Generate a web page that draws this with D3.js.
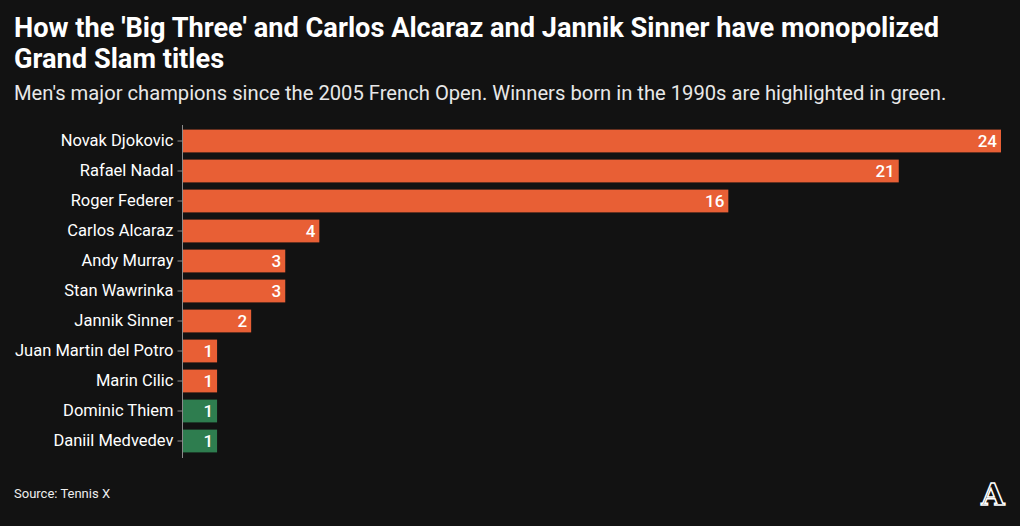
<!DOCTYPE html>
<html>
<head>
<meta charset="utf-8">
<script src="https://cdn.jsdelivr.net/npm/d3@7"></script>
<style>
  body { margin: 0; background: #121212; }
  svg { display: block; background: #121212; }
  text { font-family: Roboto, "Liberation Sans", sans-serif; fill: #fff; }
  .axis path, .axis line { stroke: #8a8a8a; }
  .axis text { font-size: 16.5px; fill: #fff; }
</style>
</head>
<body>
<svg width="1020" height="526"></svg>
<script>
var players = ['Novak Djokovic', 'Rafael Nadal', 'Roger Federer', 'Carlos Alcaraz', 'Andy Murray',
    'Stan Wawrinka', 'Jannik Sinner', 'Juan Martin del Potro', 'Marin Cilic', 'Dominic Thiem', 'Daniil Medvedev'];
var titles = [24, 21, 16, 4, 3, 3, 2, 1, 1, 1, 1];
var born1990s = [false, false, false, false, false, false, false, false, false, true, true];

var svg = d3.select('svg');

var margin = {t: 125, l: 182, r: 19, b: 68};
var width = +svg.attr('width');
var height = +svg.attr('height');

var xScale = d3.scaleLinear()
    .domain([0, 24])
    .range([margin.l + 1, width - margin.r]);

var yScale = d3.scaleBand()
    .domain(players)
    .range([margin.t + 1, margin.t + 331])
    .paddingInner(0.24)
    .paddingOuter(0.12);

// title + subtitle
svg.append('text')
    .attr('x', 14).attr('y', 37)
    .style('font-size', '27.2px').style('font-weight', 'bold')
    .text("How the 'Big Three' and Carlos Alcaraz and Jannik Sinner have monopolized");
svg.append('text')
    .attr('x', 14).attr('y', 68)
    .style('font-size', '27.2px').style('font-weight', 'bold')
    .text('Grand Slam titles');
svg.append('text')
    .attr('x', 14).attr('y', 100)
    .style('font-size', '20.2px')
    .style('fill', '#e8e8e8')
    .text("Men's major champions since the 2005 French Open. Winners born in the 1990s are highlighted in green.");

// bars
var bars = svg.selectAll('.bar')
    .data(players)
    .enter()
    .append('g')
    .attr('class', 'bar');

bars.append('rect')
    .attr('x', xScale(0))
    .attr('y', function(d) { return yScale(d); })
    .attr('width', function(d, i) { return xScale(titles[i]) - xScale(0); })
    .attr('height', yScale.bandwidth())
    .style('fill', function(d, i) { return born1990s[i] ? '#2e7d4f' : '#e85f35'; });

bars.append('text')
    .attr('x', function(d, i) { return xScale(titles[i]) - 4; })
    .attr('y', function(d) { return yScale(d) + yScale.bandwidth() / 2; })
    .attr('dy', '0.36em')
    .attr('text-anchor', 'end')
    .style('font-size', '17px')
    .style('font-weight', 500)
    .text(function(d, i) { return titles[i]; });

// y axis
var yAxis = d3.axisLeft(yScale).tickSize(5).tickSizeOuter(0).tickPadding(4);
var gy = svg.append('g')
    .attr('class', 'axis')
    .attr('transform', 'translate(' + (margin.l + 0.5) + ',0)')
    .call(yAxis);
gy.select('.domain').attr('d', 'M0,' + margin.t + 'V' + (margin.t + 333));

// footer
svg.append('text')
    .attr('x', 14).attr('y', 498)
    .style('font-size', '13px')
    .style('fill', '#eee')
    .text('Source: Tennis X');

svg.append('text')
    .attr('x', 993).attr('y', 505)
    .attr('text-anchor', 'middle')
    .style('font-family', '"DejaVu Serif", serif')
    .style('font-size', '30px')
    .style('font-weight', 'bold')
    .style('fill', '#121212')
    .style('stroke', '#fff')
    .style('stroke-width', 1.5)
    .text('A');
</script>
</body>
</html>
